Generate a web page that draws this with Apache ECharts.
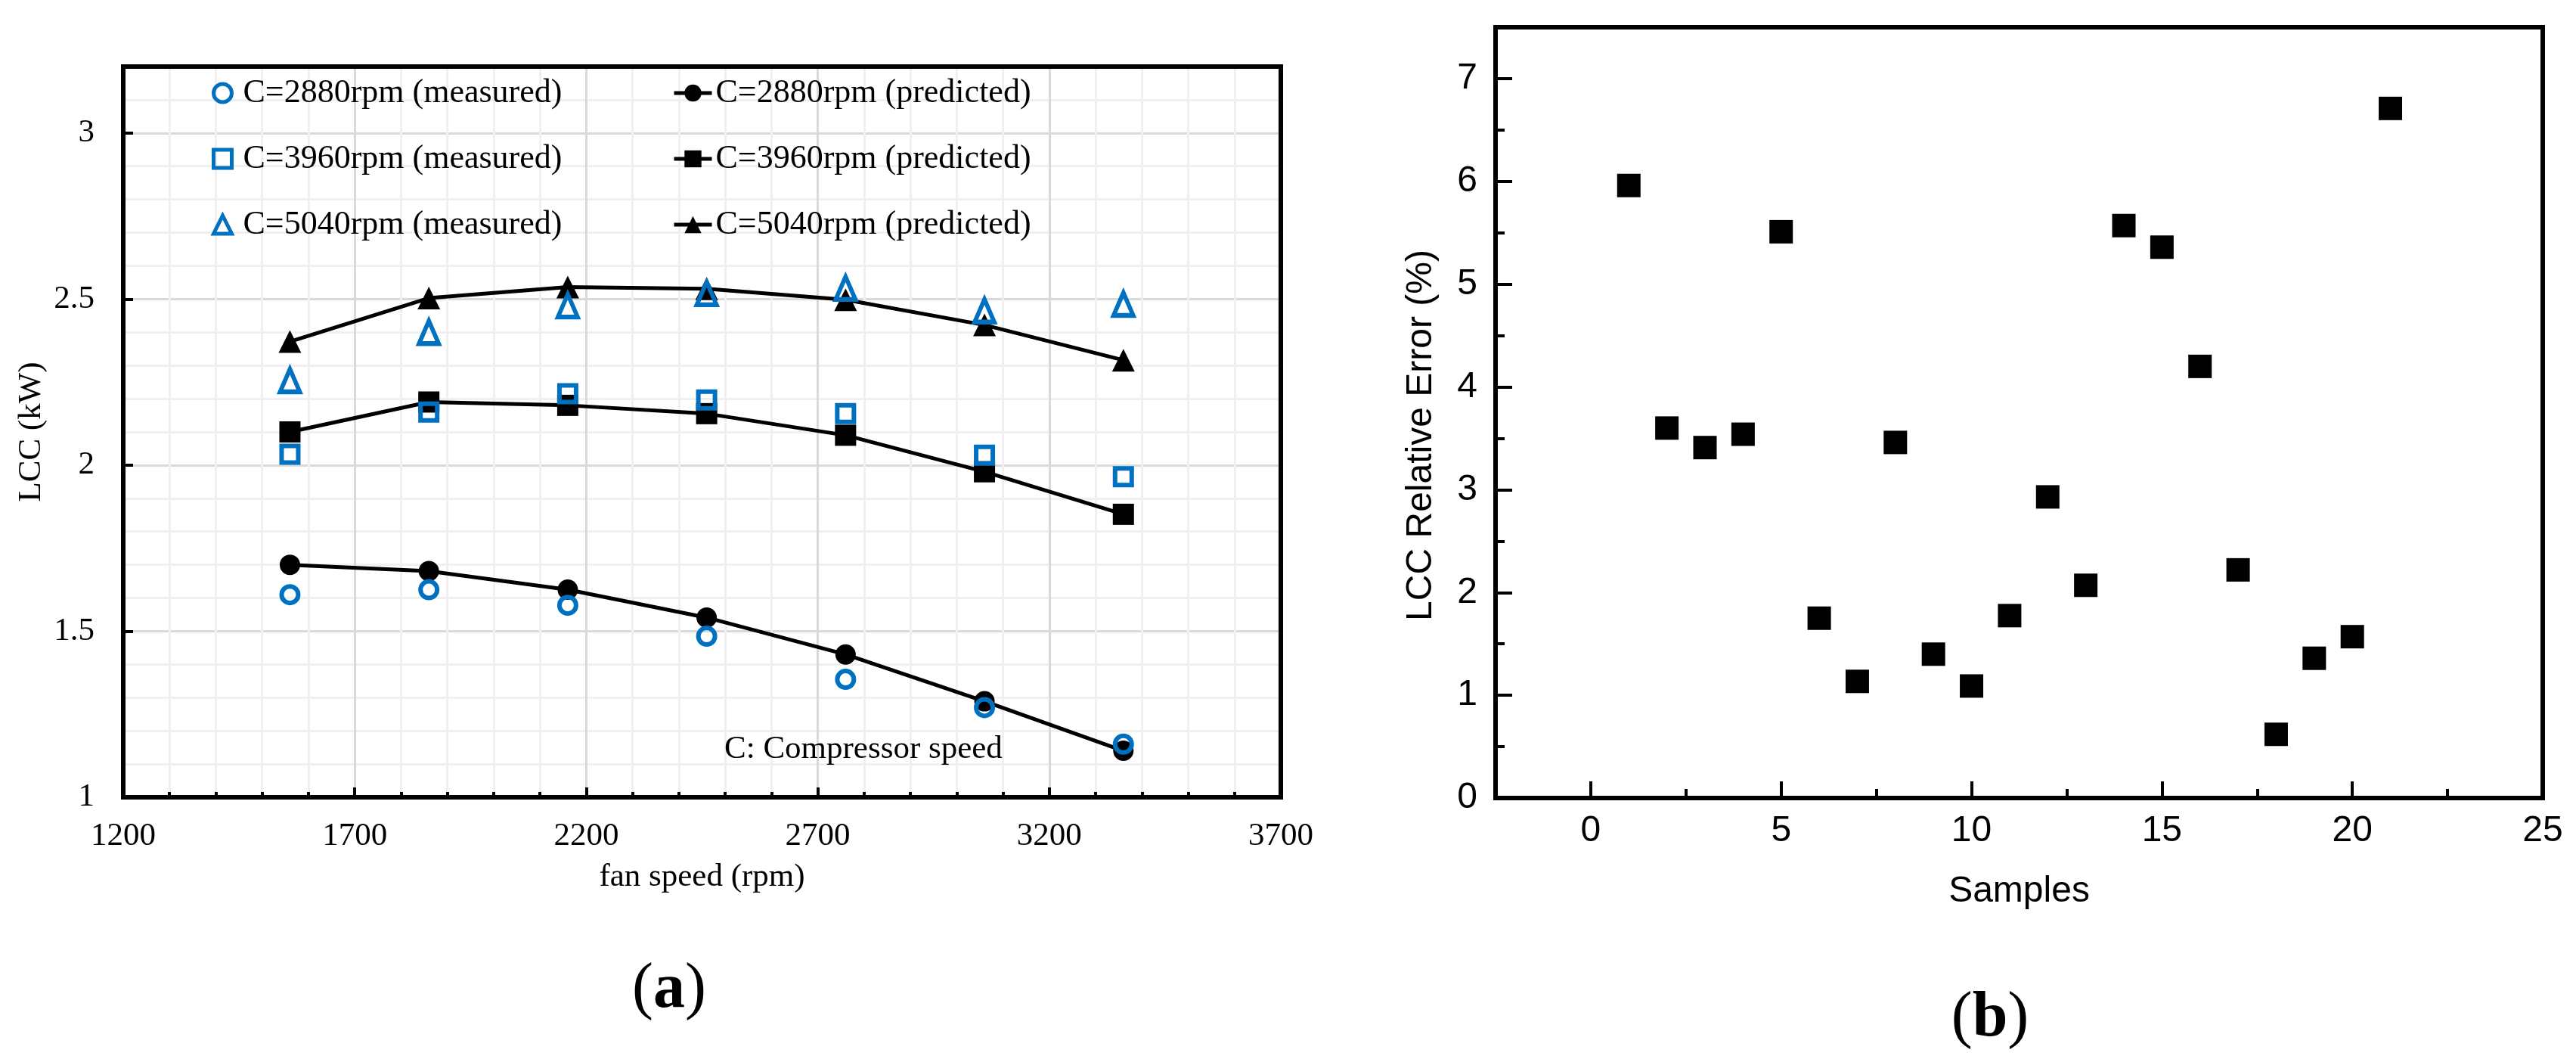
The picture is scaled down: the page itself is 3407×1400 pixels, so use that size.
<!DOCTYPE html>
<html>
<head>
<meta charset="utf-8">
<script src="https://cdn.jsdelivr.net/npm/echarts@6/dist/echarts.min.js"></script>
<style>
html,body{margin:0;padding:0;background:#fff;}
#chart{width:3407px;height:1400px;}
</style>
</head>
<body>
<div id="chart"></div>
<script>
// ---------- Panel (a) data ----------
const fanSpeed = [1560, 1860, 2160, 2460, 2760, 3060, 3360];
const meas2880 = [1.61, 1.625, 1.578, 1.485, 1.355, 1.27, 1.16];
const pred2880 = [1.70, 1.681, 1.625, 1.541, 1.43, 1.289, 1.14];
const meas3960 = [2.033, 2.16, 2.215, 2.196, 2.155, 2.03, 1.965];
const pred3960 = [2.10, 2.19, 2.18, 2.155, 2.09, 1.98, 1.852];
const meas5040 = [2.255, 2.40, 2.48, 2.517, 2.533, 2.465, 2.485];
const pred5040 = [2.372, 2.503, 2.536, 2.531, 2.498, 2.422, 2.316];
const seriesNamesA = [
  'C=2880rpm (measured)', 'C=3960rpm (measured)', 'C=5040rpm (measured)',
  'C=2880rpm (predicted)', 'C=3960rpm (predicted)', 'C=5040rpm (predicted)'
];
const xTicksA = [1200, 1700, 2200, 2700, 3200, 3700];
const yTicksA = [1, 1.5, 2, 2.5, 3];
const yMaxA = 3.2;

// ---------- Panel (b) data ----------
const samples = [1,2,3,4,5,6,7,8,9,10,11,12,13,14,15,16,17,18,19,20,21];
const relError = [5.96, 3.60, 3.41, 3.54, 5.51, 1.75, 1.135, 3.46, 1.40, 1.09, 1.775,
                  2.93, 2.07, 5.57, 5.36, 4.20, 2.22, 0.62, 1.36, 1.57, 6.71];
const xTicksB = [0, 5, 10, 15, 20, 25];
const xMinorTicksB = [2.5, 7.5, 12.5, 17.5, 22.5];
const yTicksB = [0, 1, 2, 3, 4, 5, 6, 7];
const yMinorTicksB = [0.5, 1.5, 2.5, 3.5, 4.5, 5.5, 6.5];
const xRangeB = [-2.5, 25];
const yRangeB = [0, 7.5];

const BLUE = '#0070C0';
const SERIF = '"Liberation Serif", "Times New Roman", serif';
const SANS = '"Liberation Sans", Arial, sans-serif';

const pairs = (xs, ys) => xs.map((x, i) => [x, ys[i]]);

const chart = echarts.init(document.getElementById('chart'), null, {renderer: 'canvas'});

const measStyle = {color: 'rgba(0,0,0,0)', borderColor: BLUE, borderWidth: 6, opacity: 1};
const predLine = {color: '#000', width: 5};
const frameLine = {color: '#000', width: 6, cap: 'square'};

function frameAxis(grid, pos, range) {
  return {
    gridIndex: grid, type: 'value', position: pos, z: 3,
    min: range[0], max: range[1],
    axisLine: {show: true, onZero: false, lineStyle: frameLine},
    axisTick: {show: false}, axisLabel: {show: false}, splitLine: {show: false}
  };
}

const option = {
  backgroundColor: '#fff',
  animation: false,
  title: [
    {text: 'C: Compressor speed', left: 953, top: 964,
     textStyle: {fontFamily: SERIF, fontSize: 43, fontWeight: 'normal', color: '#000'}},
    {text: '({b|a})', left: 880, top: 1262, textAlign: 'center',
     textStyle: {fontFamily: SERIF, fontSize: 84, fontWeight: 'normal', color: '#000',
       rich: {b: {fontFamily: SERIF, fontSize: 84, fontWeight: 'bold', color: '#000'}}}},
    {text: '({b|b})', left: 2627, top: 1300, textAlign: 'center',
     textStyle: {fontFamily: SERIF, fontSize: 84, fontWeight: 'normal', color: '#000',
       rich: {b: {fontFamily: SERIF, fontSize: 84, fontWeight: 'bold', color: '#000'}}}}
  ],
  legend: [
    {
      data: seriesNamesA.slice(0, 3), orient: 'vertical', left: 280, top: 101, padding: 0,
      itemWidth: 24, itemHeight: 24, itemGap: 43,
      itemStyle: {borderWidth: 5},
      textStyle: {fontFamily: SERIF, fontSize: 44, color: '#000', lineHeight: 44, padding: [0, 0, 0, 10]}
    },
    {
      data: seriesNamesA.slice(3, 6), orient: 'vertical', left: 889, top: 101, padding: 0,
      itemWidth: 50, itemHeight: 28, itemGap: 43,
      lineStyle: {width: 5},
      textStyle: {fontFamily: SERIF, fontSize: 44, color: '#000', lineHeight: 44, padding: [0, 0, 0, 0]}
    }
  ],
  grid: [
    {left: 163, top: 88, width: 1531, height: 966, show: false},
    {left: 1978, top: 36, width: 1385, height: 1019, show: false}
  ],
  xAxis: [
    { // 0: panel (a) main x
      gridIndex: 0, type: 'value', z: 1,
      min: xTicksA[0], max: xTicksA[xTicksA.length - 1], interval: xTicksA[1] - xTicksA[0],
      name: 'fan speed (rpm)', nameLocation: 'middle', nameGap: 84,
      nameTextStyle: {fontFamily: SERIF, fontSize: 43, color: '#000'},
      axisLine: {show: true, onZero: false, lineStyle: frameLine},
      axisTick: {show: true, inside: true, length: 13, lineStyle: {color: '#000', width: 4}},
      minorTick: {show: true, splitNumber: 5, length: 7, lineStyle: {color: '#000', width: 4}},
      axisLabel: {fontFamily: SERIF, fontSize: 43, color: '#000', margin: 30, formatter: v => String(v)},
      splitLine: {show: true, showMinLine: false, showMaxLine: false, lineStyle: {color: '#D9D9D9', width: 3}},
      minorSplitLine: {show: true, lineStyle: {color: '#F0F0F0', width: 3}}
    },
    { // 1: panel (b) main x (labels + major ticks)
      gridIndex: 1, type: 'value', z: 1,
      min: xRangeB[0], max: xRangeB[1],
      name: 'Samples', nameLocation: 'middle', nameGap: 100,
      nameTextStyle: {fontFamily: SANS, fontSize: 48, color: '#000'},
      axisLine: {show: true, onZero: false, lineStyle: frameLine},
      axisTick: {show: true, inside: true, length: 22, customValues: xTicksB, lineStyle: {color: '#000', width: 4}},
      axisLabel: {fontFamily: SANS, fontSize: 48, color: '#000', margin: 20, customValues: xTicksB},
      splitLine: {show: false}
    },
    { // 2: panel (b) minor ticks on x
      gridIndex: 1, type: 'value', z: 1, position: 'bottom',
      min: xRangeB[0], max: xRangeB[1],
      axisLine: {show: false, onZero: false},
      axisTick: {show: true, inside: true, length: 12, customValues: xMinorTicksB, lineStyle: {color: '#000', width: 4}},
      axisLabel: {show: false},
      splitLine: {show: false}
    },
    frameAxis(0, 'top', [xTicksA[0], xTicksA[xTicksA.length - 1]]),
    frameAxis(1, 'top', xRangeB)
  ],
  yAxis: [
    { // 0: panel (a) main y
      gridIndex: 0, type: 'value', z: 1,
      min: yTicksA[0], max: yMaxA, interval: yTicksA[1] - yTicksA[0],
      name: 'LCC (kW)', nameLocation: 'middle', nameGap: 100,
      nameTextStyle: {fontFamily: SERIF, fontSize: 43, color: '#000'},
      axisLine: {show: true, onZero: false, lineStyle: frameLine},
      axisTick: {show: true, inside: true, length: 13, lineStyle: {color: '#000', width: 4}},
      axisLabel: {fontFamily: SERIF, fontSize: 43, color: '#000', margin: 38, showMaxLabel: false},
      splitLine: {show: true, showMinLine: false, showMaxLine: false, lineStyle: {color: '#D9D9D9', width: 3}}
    },
    { // 1: panel (a) minor grid lines (every 0.1)
      gridIndex: 0, type: 'value', z: 0, position: 'left',
      min: yTicksA[0], max: yMaxA, interval: 0.1,
      axisLine: {show: false, onZero: false}, axisTick: {show: false}, axisLabel: {show: false},
      splitLine: {show: true, showMinLine: false, showMaxLine: false, lineStyle: {color: '#F0F0F0', width: 3}}
    },
    { // 2: panel (b) main y
      gridIndex: 1, type: 'value', z: 1,
      min: yRangeB[0], max: yRangeB[1],
      name: 'LCC Relative Error (%)', nameLocation: 'middle', nameGap: 74,
      nameTextStyle: {fontFamily: SANS, fontSize: 48, color: '#000', padding: [0, 60, 0, 0]},
      axisLine: {show: true, onZero: false, lineStyle: frameLine},
      axisTick: {show: true, inside: true, length: 22, customValues: yTicksB, lineStyle: {color: '#000', width: 4}},
      axisLabel: {fontFamily: SANS, fontSize: 48, color: '#000', margin: 24, customValues: yTicksB},
      splitLine: {show: false}
    },
    { // 3: panel (b) minor ticks on y
      gridIndex: 1, type: 'value', z: 1, position: 'left',
      min: yRangeB[0], max: yRangeB[1],
      axisLine: {show: false, onZero: false},
      axisTick: {show: true, inside: true, length: 12, customValues: yMinorTicksB, lineStyle: {color: '#000', width: 4}},
      axisLabel: {show: false},
      splitLine: {show: false}
    },
    frameAxis(0, 'right', [yTicksA[0], yMaxA]),
    frameAxis(1, 'right', yRangeB)
  ],
  series: [
    {name: seriesNamesA[3], type: 'line', z: 3, xAxisIndex: 0, yAxisIndex: 0, data: pairs(fanSpeed, pred2880),
     symbol: 'circle', symbolSize: 27, lineStyle: predLine, itemStyle: {color: '#000', opacity: 1}},
    {name: seriesNamesA[4], type: 'line', z: 3, xAxisIndex: 0, yAxisIndex: 0, data: pairs(fanSpeed, pred3960),
     symbol: 'rect', symbolSize: 28, lineStyle: predLine, itemStyle: {color: '#000', opacity: 1}},
    {name: seriesNamesA[5], type: 'line', z: 3, xAxisIndex: 0, yAxisIndex: 0, data: pairs(fanSpeed, pred5040),
     symbol: 'triangle', symbolSize: [30, 30], lineStyle: predLine, itemStyle: {color: '#000', opacity: 1}},
    {name: seriesNamesA[0], type: 'scatter', z: 4, xAxisIndex: 0, yAxisIndex: 0, data: pairs(fanSpeed, meas2880),
     symbol: 'circle', symbolSize: 22, itemStyle: measStyle},
    {name: seriesNamesA[1], type: 'scatter', z: 4, xAxisIndex: 0, yAxisIndex: 0, data: pairs(fanSpeed, meas3960),
     symbol: 'rect', symbolSize: 22, itemStyle: measStyle},
    {name: seriesNamesA[2], type: 'scatter', z: 4, xAxisIndex: 0, yAxisIndex: 0, data: pairs(fanSpeed, meas5040),
     symbol: 'triangle', symbolSize: [26, 30], itemStyle: measStyle},
    {name: 'LCC relative error', type: 'scatter', xAxisIndex: 1, yAxisIndex: 2, data: pairs(samples, relError),
     symbol: 'rect', symbolSize: 31, itemStyle: {color: '#000', opacity: 1}}
  ]
};
chart.setOption(option);
</script>
</body>
</html>
